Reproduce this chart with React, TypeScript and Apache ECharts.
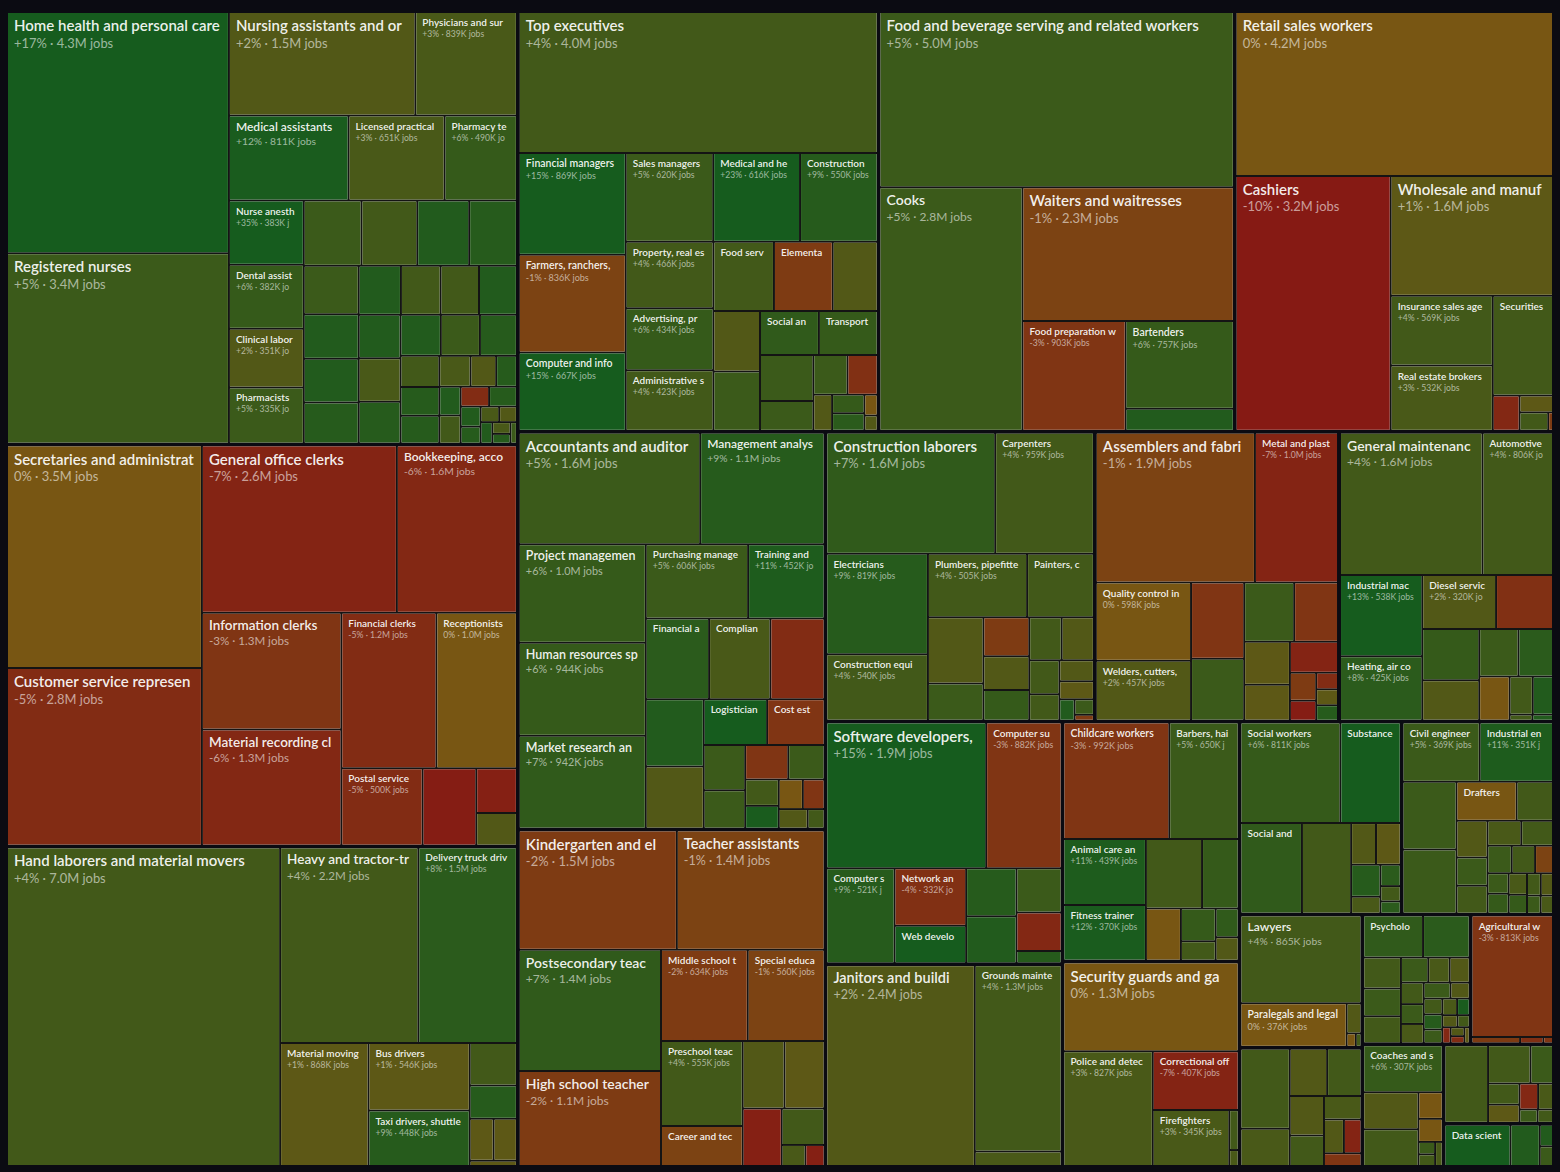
import React, { useEffect, useRef } from "react";
import * as echarts from "echarts";

// [occupation, projected growth %, jobs (thousands)]
type Named = [string, number, number];
// unlabeled small cells: [projected growth %, jobs (thousands)]
type Minor = [number, number];

const healthcareNamed: Named[] = [
  ["Home health and personal care aides", 17, 4270],
  ["Registered nurses", 5, 3370],
  ["Nursing assistants and orderlies", 2, 1540],
  ["Physicians and surgeons", 3, 839],
  ["Medical assistants", 12, 811],
  ["Licensed practical and licensed vocational nurses", 3, 651],
  ["Pharmacy technicians", 6, 490],
  ["Nurse anesthetists, nurse midwives, and nurse practitioners", 35, 383],
  ["Dental assistants", 6, 382],
  ["Clinical laboratory technologists and technicians", 2, 351],
  ["Pharmacists", 5, 335],
];
const healthcareMinor: Minor[] = [
  [5, 300], [4, 290], [10, 270], [9, 248],
  [5, 212], [10, 195], [10, 192], [9, 180],
  [10, 165], [4, 155], [4, 150], [3, 145],
  [10, 148], [10, 145], [9, 140],
  [10, 132], [5, 128], [9, 121],
  [4, 96], [9, 89], [9, 86], [3, 77], [2, 63], [9, 51],
  [10, 49], [4, 48], [-5, 45], [9, 44],
  [10, 32], [9, 27], [3, 23], [2, 22], [10, 20], [3, 17], [9, 14], [5, 11],
];

const officeNamed: Named[] = [
  ["Secretaries and administrative assistants", 0, 3460],
  ["Customer service representatives", -5, 2760],
  ["General office clerks", -7, 2600],
  ["Bookkeeping, accounting, and auditing clerks", -6, 1600],
  ["Information clerks", -3, 1300],
  ["Material recording clerks", -6, 1290],
  ["Financial clerks", -5, 1180],
  ["Receptionists", 0, 1000],
  ["Postal service workers", -5, 500],
];
const officeMinor: Minor[] = [[-9, 330], [-8, 145], [2, 105]];

const transportNamed: Named[] = [
  ["Hand laborers and material movers", 4, 6950],
  ["Heavy and tractor-trailer truck drivers", 4, 2160],
  ["Delivery truck drivers and driver/sales workers", 8, 1540],
  ["Material moving machine operators", 1, 868],
  ["Bus drivers", 1, 546],
  ["Taxi drivers, shuttle drivers, and chauffeurs", 9, 448],
];
const transportMinor: Minor[] = [[4, 160], [9, 125], [1, 80], [1, 78], [1, 20]];

const managementNamed: Named[] = [
  ["Top executives", 4, 4040],
  ["Financial managers", 15, 869],
  ["Farmers, ranchers, and other agricultural managers", -1, 836],
  ["Computer and information systems managers", 15, 667],
  ["Sales managers", 5, 620],
  ["Medical and health services managers", 23, 616],
  ["Construction managers", 9, 550],
  ["Property, real estate, and community association managers", 4, 466],
  ["Advertising, promotions, and marketing managers", 6, 434],
  ["Administrative services and facilities managers", 4, 423],
  ["Food service managers", 4, 335],
  ["Elementary and secondary school education administrators", -2, 325],
  ["Social and community service managers", 7, 208],
  ["Transportation, storage, and distribution managers", 6, 207],
];
const managementMinor: Minor[] = [
  [2, 248], [2, 226], [5, 220], [5, 196], [5, 126], [5, 108], [-4, 95], [2, 54],
  [6, 48], [8, 45], [0, 22], [2, 16],
];

const foodNamed: Named[] = [
  ["Food and beverage serving and related workers", 5, 4960],
  ["Cooks", 5, 2780],
  ["Waiters and waitresses", -1, 2260],
  ["Food preparation workers", -3, 903],
  ["Bartenders", 6, 757],
];
const foodMinor: Minor[] = [[10, 190]];

const salesNamed: Named[] = [
  ["Retail sales workers", 0, 4160],
  ["Cashiers", -10, 3155],
  ["Wholesale and manufacturing sales representatives", 1, 1555],
  ["Insurance sales agents", 4, 569],
  ["Real estate brokers and sales agents", 3, 532],
  ["Securities, commodities, and financial services sales agents", 4, 480],
];
const salesMinor: Minor[] = [[-6, 75], [1, 45], [4, 42], [-2, 7]];

const businessNamed: Named[] = [
  ["Accountants and auditors", 5, 1620],
  ["Management analysts", 9, 1110],
  ["Project management specialists", 6, 1000],
  ["Human resources specialists", 6, 944],
  ["Market research analysts and marketing specialists", 7, 942],
  ["Purchasing managers, buyers, and purchasing agents", 5, 606],
  ["Training and development specialists", 11, 452],
  ["Financial and investment analysts", 8, 410],
  ["Compliance officers", 3, 397],
  ["Logisticians", 17, 231],
  ["Cost estimators", -3, 209],
];
const businessMinor: Minor[] = [
  [-5, 350], [10, 311], [2, 288], [5, 150], [5, 127], [-3, 119], [5, 100], [4, 71],
  [12, 61], [-3, 51], [0, 57], [2, 45], [4, 26],
];

const educationNamed: Named[] = [
  ["Kindergarten and elementary school teachers", -2, 1510],
  ["Teacher assistants", -1, 1410],
  ["Postsecondary teachers", 7, 1380],
  ["High school teachers", -2, 1080],
  ["Middle school teachers", -2, 634],
  ["Special education teachers", -1, 560],
  ["Preschool teachers", 4, 555],
  ["Career and technical education teachers", -1, 262],
];
const educationMinor: Minor[] = [[2, 225], [1, 215], [-8, 180], [4, 125], [-8, 32], [3, 40]];

const constructionNamed: Named[] = [
  ["Construction laborers and helpers", 7, 1640],
  ["Carpenters", 4, 959],
  ["Electricians", 9, 819],
  ["Construction equipment operators", 4, 540],
  ["Plumbers, pipefitters, and steamfitters", 4, 505],
  ["Painters, construction and maintenance", 4, 340],
];
const constructionMinor: Minor[] = [
  [2, 295], [5, 165], [-2, 143], [2, 124], [4, 112], [2, 111], [6, 113], [4, 82],
  [2, 58], [1, 50], [4, 64], [10, 26], [5, 24], [-2, 9],
];

const productionNamed: Named[] = [
  ["Assemblers and fabricators", -1, 1915],
  ["Metal and plastic machine workers", -7, 1000],
  ["Quality control inspectors", 0, 598],
  ["Welders, cutters, solderers, and brazers", 2, 457],
];
const productionMinor: Minor[] = [
  [-3, 325], [5, 264], [5, 237], [-3, 208], [1, 158], [1, 132], [-7, 120], [-2, 59],
  [-9, 42], [-5, 29], [1, 28], [9, 27],
];

const installNamed: Named[] = [
  ["General maintenance and repair workers", 4, 1630],
  ["Automotive service technicians and mechanics", 4, 806],
  ["Industrial machinery mechanics", 13, 538],
  ["Heating, air conditioning, and refrigeration mechanics and installers", 8, 425],
  ["Diesel service technicians and mechanics", 2, 320],
  ["Telecommunications equipment installers and repairers", -4, 247],
];
const installMinor: Minor[] = [
  [6, 235], [2, 185], [5, 150], [8, 132], [0, 108], [4, 71], [10, 62], [4, 11], [10, 10],
];

const computerNamed: Named[] = [
  ["Software developers, quality assurance analysts, and testers", 15, 1870],
  ["Computer support specialists", -3, 882],
  ["Computer systems analysts", 9, 521],
  ["Network and computer systems administrators", -4, 332],
  ["Web developers and digital designers", 16, 215],
];
const computerMinor: Minor[] = [[9, 195], [10, 190], [5, 160], [-6, 140], [9, 44]];

const buildingNamed: Named[] = [
  ["Janitors and building cleaners", 2, 2400],
  ["Grounds maintenance workers", 4, 1300],
];
const buildingMinor: Minor[] = [[3, 102]];

const personalNamed: Named[] = [
  ["Childcare workers", -3, 992],
  ["Barbers, hairstylists, and cosmetologists", 5, 650],
  ["Animal care and service workers", 11, 439],
  ["Fitness trainers and instructors", 12, 370],
];
const personalMinor: Minor[] = [[4, 315], [6, 205], [0, 147], [6, 92], [7, 53], [4, 54], [2, 43]];

const protectiveNamed: Named[] = [
  ["Security guards and gambling surveillance officers", 0, 1255],
  ["Police and detectives", 3, 827],
  ["Correctional officers and bailiffs", -7, 407],
  ["Firefighters", 3, 345],
];
const protectiveMinor: Minor[] = [[4, 30], [3, 12]];

const communityNamed: Named[] = [
  ["Social workers", 6, 811],
  ["Substance abuse, behavioral disorder, and mental health counselors", 19, 490],
  ["Social and human service assistants", 7, 450],
];
const communityMinor: Minor[] = [[4, 360], [2, 84], [1, 83], [9, 76], [8, 35], [3, 40], [4, 25], [8, 20]];

const engineeringNamed: Named[] = [
  ["Civil engineers", 5, 369],
  ["Industrial engineers", 11, 351],
  ["Drafters", 0, 190],
];
const engineeringMinor: Minor[] = [
  [5, 295], [5, 280], [4, 115], [2, 92], [4, 70], [4, 64], [5, 54], [4, 52], [6, 34],
  [5, 71], [3, 68], [-1, 40], [5, 35], [3, 32], [6, 28], [4, 25], [2, 22], [5, 20], [3, 18],
];

const legalNamed: Named[] = [
  ["Lawyers", 4, 865],
  ["Paralegals and legal assistants", 0, 376],
];
const legalMinor: Minor[] = [[2, 36], [0, 10], [4, 6]];

const mediaNamed: Named[] = [];
const mediaMinor: Minor[] = [
  [4, 322], [3, 150], [2, 144], [4, 132], [2, 111], [4, 85], [3, 72], [2, 55], [-7, 48], [-3, 39],
];

const scienceNamed: Named[] = [["Psychologists", 7, 205]];
const scienceMinor: Minor[] = [
  [8, 160], [4, 95], [5, 86], [4, 83], [5, 56], [3, 44], [2, 41], [4, 40], [5, 37], [3, 36],
  [5, 35], [2, 25], [4, 24], [9, 23], [5, 21], [3, 20], [12, 17], [2, 15], [4, 12], [-6, 11],
  [2, 10], [-5, 8], [1, 7],
];

const farmingNamed: Named[] = [["Agricultural workers", -3, 813]];
const farmingMinor: Minor[] = [[-2, 25], [-4, 12], [-3, 5]];

const sportsNamed: Named[] = [["Coaches and scouts", 6, 307]];
const sportsMinor: Minor[] = [[2, 168], [4, 167], [0, 53], [0, 46], [5, 17], [4, 16], [3, 15]];

const designNamed: Named[] = [];
const designMinor: Minor[] = [[4, 278], [4, 134], [5, 71], [4, 55], [1, 47], [-6, 40], [3, 32], [5, 20], [4, 17]];

const mathNamed: Named[] = [["Data scientists", 36, 229]];
const mathMinor: Minor[] = [[10, 102], [10, 24], [5, 22]];

const groupList: [string, Named[], Minor[]][] = [
  ["Healthcare", healthcareNamed, healthcareMinor],
  ["Office and administrative support", officeNamed, officeMinor],
  ["Transportation and material moving", transportNamed, transportMinor],
  ["Management", managementNamed, managementMinor],
  ["Food preparation and serving", foodNamed, foodMinor],
  ["Sales", salesNamed, salesMinor],
  ["Business and financial", businessNamed, businessMinor],
  ["Education", educationNamed, educationMinor],
  ["Construction and extraction", constructionNamed, constructionMinor],
  ["Production", productionNamed, productionMinor],
  ["Installation, maintenance, and repair", installNamed, installMinor],
  ["Computer and information technology", computerNamed, computerMinor],
  ["Building and grounds cleaning", buildingNamed, buildingMinor],
  ["Personal care and service", personalNamed, personalMinor],
  ["Protective service", protectiveNamed, protectiveMinor],
  ["Community and social service", communityNamed, communityMinor],
  ["Architecture and engineering", engineeringNamed, engineeringMinor],
  ["Legal", legalNamed, legalMinor],
  ["Media and communication", mediaNamed, mediaMinor],
  ["Life, physical, and social science", scienceNamed, scienceMinor],
  ["Farming, fishing, and forestry", farmingNamed, farmingMinor],
  ["Entertainment and sports", sportsNamed, sportsMinor],
  ["Arts and design", designNamed, designMinor],
  ["Math", mathNamed, mathMinor],
];

const BG = "#0b0b12";
const FONT = "Lato, 'Noto Sans', sans-serif";

const AMBER = [120, 86, 19];
const GREEN = [22, 92, 30];
const RED = [134, 26, 20];

function growthColor(g: number): string {
  let to: number[];
  let t: number;
  if (g >= 0) {
    to = GREEN;
    t = Math.sqrt(Math.min(g, 13) / 13);
  } else {
    to = RED;
    t = Math.sqrt(Math.min(-g, 10) / 10);
  }
  const c = AMBER.map((v, i) => Math.round(v + (to[i] - v) * t));
  return `rgb(${c[0]},${c[1]},${c[2]})`;
}

function fmtGrowth(g: number): string {
  return g > 0 ? `+${g}%` : `${g}%`;
}
function fmtJobs(k: number): string {
  return k >= 1000 ? `${(k / 1000).toFixed(1)}M` : `${Math.round(k)}K`;
}

function buildData() {
  return groupList.map(([gname, named, minor]) => ({
    name: gname,
    children: [
      ...named.map(([n, g, v]) => ({
        name: n,
        value: v,
        growth: g,
        itemStyle: { color: growthColor(g) },
      })),
      ...minor.map(([g, v], i) => ({
        name: `${gname} (other ${i + 1})`,
        value: v,
        growth: g,
        minor: true,
        itemStyle: { color: growthColor(g) },
      })),
    ],
  }));
}

const rich: Record<string, any> = {};
for (let k = 20; k <= 30; k++) {
  const fs = k / 2;
  rich["n" + k] = {
    fontFamily: FONT,
    fontSize: fs,
    fontWeight: 600,
    color: "rgba(255,255,255,0.93)",
    lineHeight: Math.round(fs * 1.2),
  };
  rich["s" + k] = {
    fontFamily: FONT,
    fontSize: Math.round(fs * 0.86 * 10) / 10,
    fontWeight: 400,
    color: "rgba(255,255,255,0.58)",
    lineHeight: Math.round(fs * 1.15),
  };
}

export default function App() {
  const ref = useRef<HTMLDivElement>(null);

  useEffect(() => {
    document.body.style.margin = "0";
    document.body.style.background = BG;
    if (!ref.current) return;
    const chart = echarts.init(ref.current, null, { renderer: "svg" });

    const formatter = (p: any) => {
      const d = p.data;
      if (!d || d.minor || d.growth === undefined) return "";
      let w = 0;
      let h = 0;
      try {
        const lay = (chart as any)
          .getModel()
          .getSeriesByIndex(0)
          .getData()
          .getItemLayout(p.dataIndex);
        if (lay) {
          w = lay.width;
          h = lay.height;
        }
      } catch (e) {
        const side = Math.sqrt(d.value * 12.4);
        w = side;
        h = side;
      }
      if (w < 55 || h < 26) return "";
      const fs = Math.max(10, Math.min(15, w / 10));
      const k = Math.round(fs * 2);
      let s = `{n${k}|${d.name}}`;
      if (w >= 66 && h >= 40) {
        s += `\n{s${k}|${fmtGrowth(d.growth)} · ${fmtJobs(d.value)} jobs}`;
      }
      return s;
    };

    chart.setOption({
      backgroundColor: BG,
      animation: false,
      tooltip: { show: false },
      series: [
        {
          type: "treemap",
          left: 8,
          top: 13,
          width: 1544,
          height: 1152,
          squareRatio: 1,
          sort: "desc",
          roam: false,
          nodeClick: false,
          visibleMin: 0,
          breadcrumb: { show: false },
          upperLabel: { show: false },
          emphasis: { disabled: true },
          label: {
            show: true,
            position: "insideTopLeft",
            distance: 0,
            padding: [3, 6, 2, 6],
            overflow: "truncate",
            ellipsis: "",
            formatter,
            rich,
          },
          itemStyle: { borderWidth: 0, gapWidth: 0 },
          levels: [
            { itemStyle: { borderWidth: 0, gapWidth: 4, borderColor: BG } },
            { itemStyle: { borderWidth: 0, gapWidth: 2, borderColor: "#141414" } },
            { itemStyle: { borderWidth: 0, gapWidth: 0 } },
          ],
          data: buildData(),
        },
      ],
    });

    return () => {
      chart.dispose();
    };
  }, []);

  return (
    <div
      ref={ref}
      style={{ position: "fixed", left: 0, top: 0, width: 1560, height: 1172, background: BG }}
    />
  );
}
